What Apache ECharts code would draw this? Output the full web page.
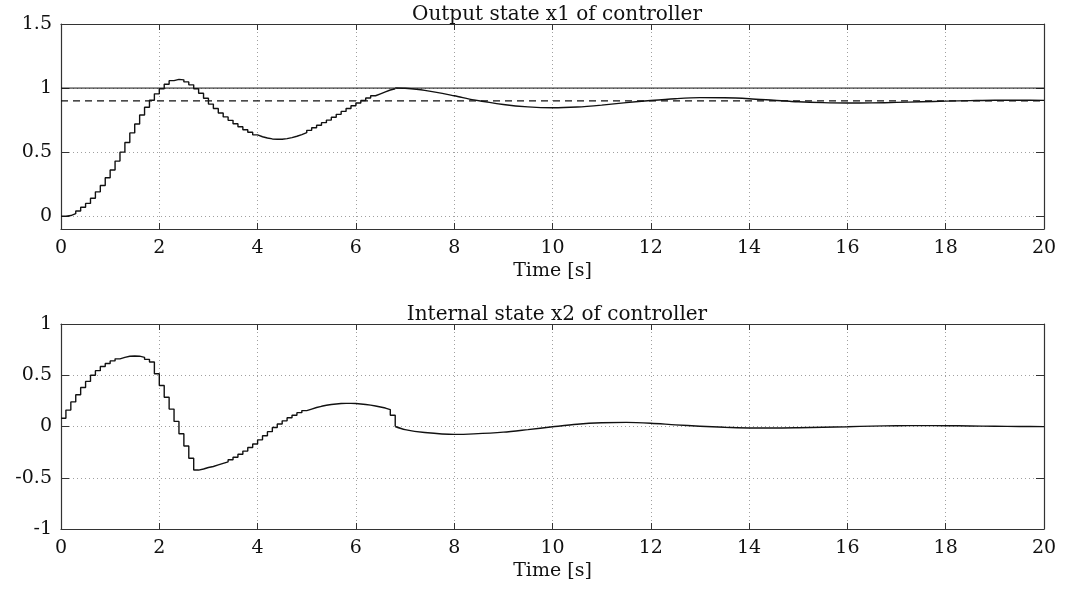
<!DOCTYPE html>
<html>
<head>
<meta charset="utf-8">
<title>Controller states</title>
<script src="https://cdn.jsdelivr.net/npm/echarts@6/dist/echarts.min.js"></script>
<style>
  html, body { margin: 0; padding: 0; background: #fff; }
  #chart { width: 1070px; height: 592px; }
</style>
</head>
<body>
<div id="chart"></div>
<script>
// sample instants of the held (stair) part, 0.1 s apart
var stepTimes = [0, 0.1, 0.2, 0.3, 0.4, 0.5, 0.6, 0.7, 0.8, 0.9,
  1.0, 1.1, 1.2, 1.3, 1.4, 1.5, 1.6, 1.7, 1.8, 1.9,
  2.0, 2.1, 2.2, 2.3, 2.4, 2.5, 2.6, 2.7, 2.8, 2.9,
  3.0, 3.1, 3.2, 3.3, 3.4, 3.5, 3.6, 3.7, 3.8, 3.9,
  4.0, 4.1, 4.2, 4.3, 4.4, 4.5, 4.6, 4.7, 4.8, 4.9,
  5.0, 5.1, 5.2, 5.3, 5.4, 5.5, 5.6, 5.7, 5.8, 5.9,
  6.0, 6.1, 6.2, 6.3, 6.4, 6.5, 6.6, 6.7, 6.8];

var x1Step = [0.0, 0.005, 0.02, 0.04, 0.07, 0.10, 0.14, 0.19, 0.24, 0.30,
  0.36, 0.43, 0.50, 0.575, 0.65, 0.72, 0.79, 0.85, 0.905, 0.955,
  0.995, 1.03, 1.058, 1.068, 1.064, 1.048, 1.025, 0.995, 0.96, 0.92,
  0.875, 0.84, 0.805, 0.775, 0.748, 0.722, 0.698, 0.675, 0.655, 0.635,
  0.62, 0.61, 0.603, 0.60, 0.60, 0.605, 0.613, 0.624, 0.637, 0.652,
  0.67, 0.69, 0.71, 0.73, 0.75, 0.772, 0.795, 0.818, 0.84, 0.862,
  0.883, 0.903, 0.922, 0.94, 0.955, 0.97, 0.985, 0.995, 1.0];

var x2Step = [0.08, 0.16, 0.24, 0.31, 0.38, 0.44, 0.50, 0.545, 0.585, 0.615,
  0.64, 0.66, 0.675, 0.685, 0.688, 0.686, 0.675, 0.655, 0.63, 0.515,
  0.40, 0.285, 0.17, 0.05, -0.07, -0.19, -0.31, -0.425, -0.415, -0.40,
  -0.39, -0.375, -0.36, -0.345, -0.325, -0.30, -0.27, -0.24, -0.205, -0.17,
  -0.13, -0.09, -0.05, -0.01, 0.025, 0.055, 0.085, 0.11, 0.135, 0.155,
  0.17, 0.185, 0.197, 0.207, 0.215, 0.22, 0.224, 0.226, 0.226, 0.224,
  0.22, 0.215, 0.208, 0.20, 0.19, 0.18, 0.165, 0.11, 0.0];

// after ~6.8 s the traces are smooth
var smoothTimes = [6.8, 7, 7.4, 8, 8.4, 9, 9.5, 10, 10.5, 11, 11.5, 12, 12.5, 13,
  13.5, 14, 14.5, 15, 15.5, 16, 16.5, 17, 17.5, 18, 18.5, 19, 19.5, 20];

var x1Smooth = [1.0, 0.998, 0.982, 0.94, 0.908, 0.872, 0.853, 0.846, 0.852, 0.867,
  0.886, 0.903, 0.917, 0.925, 0.924, 0.917, 0.905, 0.893, 0.886, 0.883,
  0.884, 0.888, 0.893, 0.898, 0.902, 0.905, 0.905, 0.904];

var x2Smooth = [0.0, -0.03, -0.058, -0.077, -0.072, -0.055, -0.03, -0.003, 0.022, 0.036,
  0.04, 0.032, 0.016, 0.003, -0.008, -0.014, -0.015, -0.012, -0.007, -0.002,
  0.004, 0.008, 0.009, 0.008, 0.005, 0.002, 0.0, -0.001];

// reference levels in the upper plot
var refSpan = [0, 20];
var refSolid = [1, 1];
var refDashed = [0.9, 0.9];

var y1Ticks = [0, 0.5, 1, 1.5];
var y2Ticks = [-1, -0.5, 0, 0.5, 1];

var titles = ['Output state x1 of controller', 'Internal state x2 of controller'];
var xName = 'Time [s]';

function pairs(xs, ys) {
    return xs.map(function (x, i) { return [x, ys[i]]; });
}

var FONT = 'DejaVu Serif';
var INK = '#111';
var gridLine = { show: true, lineStyle: { color: '#a0a0a0', type: [1, 3], width: 1 } };

function bottomX(gi) {
    return {
        type: 'value', gridIndex: gi, min: 0, max: 20, interval: 2,
        name: xName, nameLocation: 'middle', nameGap: 33,
        nameTextStyle: { fontFamily: FONT, fontSize: 19, color: INK },
        axisLine: { show: true, onZero: false, lineStyle: { color: '#333', width: 1.2 } },
        axisTick: { show: true, inside: true, length: 6, lineStyle: { color: '#333' } },
        axisLabel: { fontFamily: FONT, fontSize: 19, color: INK, margin: 10 },
        splitLine: gridLine
    };
}
function topX(gi) {
    return {
        type: 'value', gridIndex: gi, position: 'top', min: 0, max: 20, interval: 2,
        axisLine: { show: true, onZero: false, lineStyle: { color: '#333', width: 1.2 } },
        axisTick: { show: true, inside: true, length: 6, lineStyle: { color: '#333' } },
        axisLabel: { show: false },
        splitLine: { show: false }
    };
}
function leftY(gi, mn, mx, ticks) {
    return {
        type: 'value', gridIndex: gi, min: mn, max: mx,
        axisLine: { show: true, onZero: false, lineStyle: { color: '#333', width: 1.2 } },
        axisTick: { show: true, inside: true, length: 8, customValues: ticks, lineStyle: { color: '#333' } },
        axisLabel: { fontFamily: FONT, fontSize: 19, color: INK, margin: 9, customValues: ticks },
        splitLine: gridLine
    };
}
function rightY(gi, mn, mx, ticks) {
    return {
        type: 'value', gridIndex: gi, position: 'right', min: mn, max: mx,
        axisLine: { show: true, onZero: false, lineStyle: { color: '#333', width: 1.2 } },
        axisTick: { show: true, inside: true, length: 8, customValues: ticks, lineStyle: { color: '#333' } },
        axisLabel: { show: false, customValues: ticks },
        splitLine: { show: false }
    };
}

var traceStyle = { color: INK, width: 1.4 };

var option = {
    backgroundColor: '#fff',
    animation: false,
    title: [
        { text: titles[0], left: 552, top: 0, textAlign: 'center',
          textStyle: { fontFamily: FONT, fontSize: 20, fontWeight: 'normal', color: INK } },
        { text: titles[1], left: 552, top: 300, textAlign: 'center',
          textStyle: { fontFamily: FONT, fontSize: 20, fontWeight: 'normal', color: INK } }
    ],
    grid: [
        { left: 61, right: 26, top: 24, height: 205 },
        { left: 61, right: 26, top: 324, height: 205 }
    ],
    xAxis: [bottomX(0), topX(0), bottomX(1), topX(1)],
    yAxis: [
        leftY(0, -0.1, 1.5, y1Ticks), rightY(0, -0.1, 1.5, y1Ticks),
        leftY(1, -1, 1, y2Ticks), rightY(1, -1, 1, y2Ticks)
    ],
    series: [
        { type: 'line', xAxisIndex: 0, yAxisIndex: 0, data: pairs(refSpan, refSolid),
          symbol: 'none', lineStyle: { color: INK, width: 1 } },
        { type: 'line', xAxisIndex: 0, yAxisIndex: 0, data: pairs(refSpan, refDashed),
          symbol: 'none', lineStyle: { color: INK, width: 1.3, type: [7, 5] } },
        { type: 'line', xAxisIndex: 0, yAxisIndex: 0, data: pairs(stepTimes, x1Step),
          step: 'end', symbol: 'none', lineStyle: traceStyle },
        { type: 'line', xAxisIndex: 0, yAxisIndex: 0, data: pairs(smoothTimes, x1Smooth),
          smooth: 0.3, symbol: 'none', lineStyle: traceStyle },
        { type: 'line', xAxisIndex: 2, yAxisIndex: 2, data: pairs(stepTimes, x2Step),
          step: 'end', symbol: 'none', lineStyle: traceStyle },
        { type: 'line', xAxisIndex: 2, yAxisIndex: 2, data: pairs(smoothTimes, x2Smooth),
          smooth: 0.3, symbol: 'none', lineStyle: traceStyle }
    ]
};

var myChart = echarts.init(document.getElementById('chart'));
myChart.setOption(option);
</script>
</body>
</html>
